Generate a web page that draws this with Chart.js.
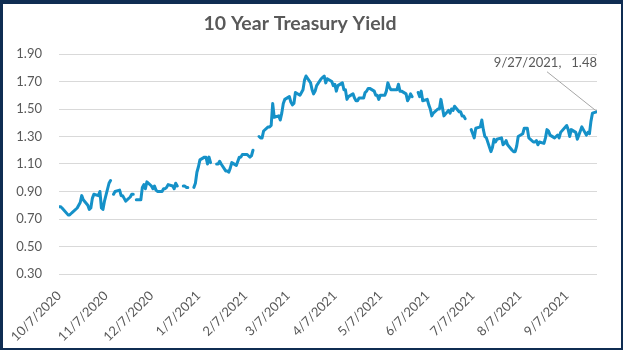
<!DOCTYPE html>
<html>
<head>
    <title>10 Year Treasury Yield</title>
    <script src="https://cdn.jsdelivr.net/npm/chart.js@4.4.1/dist/chart.umd.min.js"></script>
    <style>
        html, body {
            margin: 0;
            padding: 0;
            background: #0f2d52;
        }
        .frame {
            position: absolute;
            left: 3px;
            top: 4px;
            width: 618px;
            height: 344px;
            background: #ffffff;
        }
    </style>
</head>
<body>
    <div class="frame">
        <canvas id="yieldChart" width="618" height="344"></canvas>
    </div>

    <script>
        // daily close, blank where the market was shut
        const dates = [
            '10/7/2020','10/8/2020','10/9/2020','10/13/2020','10/14/2020','10/15/2020','10/16/2020',
            '10/19/2020','10/20/2020','10/21/2020','10/22/2020','10/23/2020','10/26/2020','10/27/2020','10/28/2020',
            '10/29/2020','10/30/2020','11/2/2020','11/3/2020','11/4/2020','11/5/2020','11/6/2020','11/9/2020',
            '11/10/2020','11/11/2020','11/12/2020','11/13/2020','11/16/2020','11/17/2020','11/18/2020','11/19/2020',
            '11/20/2020','11/23/2020','11/24/2020','11/25/2020','11/26/2020','11/27/2020','11/30/2020','12/1/2020',
            '12/2/2020','12/3/2020','12/4/2020','12/7/2020','12/8/2020','12/9/2020','12/10/2020','12/11/2020',
            '12/14/2020','12/15/2020','12/16/2020','12/17/2020','12/18/2020','12/21/2020','12/22/2020','12/23/2020',
            '12/24/2020','12/25/2020','12/28/2020','12/29/2020','12/30/2020','12/31/2020','1/1/2021','1/4/2021',
            '1/5/2021','1/6/2021','1/7/2021','1/8/2021','1/11/2021','1/12/2021','1/13/2021','1/14/2021',
            '1/15/2021','1/18/2021','1/19/2021','1/20/2021','1/21/2021','1/22/2021','1/25/2021','1/26/2021',
            '1/27/2021','1/28/2021','1/29/2021','2/1/2021','2/2/2021','2/3/2021','2/4/2021','2/5/2021',
            '2/8/2021','2/9/2021','2/10/2021','2/11/2021','2/12/2021','2/15/2021','2/16/2021','2/17/2021',
            '2/18/2021','2/19/2021','2/22/2021','2/23/2021','2/24/2021','2/25/2021','2/26/2021','3/1/2021',
            '3/2/2021','3/3/2021','3/4/2021','3/5/2021','3/8/2021','3/9/2021','3/10/2021','3/11/2021',
            '3/12/2021','3/15/2021','3/16/2021','3/17/2021','3/18/2021','3/19/2021','3/22/2021','3/23/2021',
            '3/24/2021','3/25/2021','3/26/2021','3/29/2021','3/30/2021','3/31/2021','4/1/2021','4/2/2021',
            '4/5/2021','4/6/2021','4/7/2021','4/8/2021','4/9/2021','4/12/2021','4/13/2021','4/14/2021',
            '4/15/2021','4/16/2021','4/19/2021','4/20/2021','4/21/2021','4/22/2021','4/23/2021','4/26/2021',
            '4/27/2021','4/28/2021','4/29/2021','4/30/2021','5/3/2021','5/4/2021','5/5/2021','5/6/2021',
            '5/7/2021','5/10/2021','5/11/2021','5/12/2021','5/13/2021','5/14/2021','5/17/2021','5/18/2021',
            '5/19/2021','5/20/2021','5/21/2021','5/24/2021','5/25/2021','5/26/2021','5/27/2021','5/28/2021',
            '5/31/2021','6/1/2021','6/2/2021','6/3/2021','6/4/2021','6/7/2021','6/8/2021','6/9/2021',
            '6/10/2021','6/11/2021','6/14/2021','6/15/2021','6/16/2021','6/17/2021','6/18/2021','6/21/2021',
            '6/22/2021','6/23/2021','6/24/2021','6/25/2021','6/28/2021','6/29/2021','6/30/2021','7/1/2021',
            '7/2/2021','7/5/2021','7/6/2021','7/7/2021','7/8/2021','7/9/2021','7/12/2021','7/13/2021',
            '7/14/2021','7/15/2021','7/16/2021','7/19/2021','7/20/2021','7/21/2021','7/22/2021','7/23/2021',
            '7/26/2021','7/27/2021','7/28/2021','7/29/2021','7/30/2021','8/2/2021','8/3/2021','8/4/2021',
            '8/5/2021','8/6/2021','8/9/2021','8/10/2021','8/11/2021','8/12/2021','8/13/2021','8/16/2021',
            '8/17/2021','8/18/2021','8/19/2021','8/20/2021','8/23/2021','8/24/2021','8/25/2021','8/26/2021',
            '8/27/2021','8/30/2021','8/31/2021','9/1/2021','9/2/2021','9/3/2021','9/7/2021',
            '9/8/2021','9/9/2021','9/10/2021','9/13/2021','9/14/2021','9/15/2021','9/16/2021','9/17/2021',
            '9/20/2021','9/21/2021','9/22/2021','9/23/2021','9/24/2021','9/27/2021'
        ];

        const yields = [
            0.79,0.79,0.78,0.73,0.73,0.74,0.75,
            0.78,0.80,0.82,0.87,0.84,0.80,0.77,0.78,
            0.85,0.88,0.87,0.90,0.78,0.77,0.83,0.96,
            0.98,null,0.88,0.90,0.91,0.87,0.87,0.85,
            0.83,0.86,0.88,0.88,null,0.84,0.84,0.93,
            0.95,0.92,0.97,0.94,0.92,0.94,0.91,0.90,
            0.90,0.92,0.92,0.93,0.95,0.94,0.92,0.96,
            0.94,null,0.94,0.94,0.93,0.93,null,0.93,
            0.96,1.04,1.08,1.13,1.15,1.15,1.10,1.15,
            1.11,null,1.10,1.10,1.12,1.10,1.05,1.05,
            1.04,1.07,1.11,1.09,1.12,1.15,1.15,1.17,
            1.17,1.16,1.15,1.16,1.20,null,1.30,1.29,
            1.29,1.34,1.37,1.37,1.38,1.54,1.44,1.45,
            1.42,1.47,1.54,1.57,1.59,1.55,1.53,1.54,
            1.62,1.60,1.62,1.64,1.71,1.74,1.69,1.64,
            1.61,1.63,1.67,1.72,1.73,1.74,1.69,1.72,
            1.70,1.67,1.68,1.63,1.67,1.69,1.64,1.64,
            1.57,1.59,1.61,1.58,1.56,1.56,1.58,1.58,
            1.62,1.63,1.65,1.65,1.63,1.60,1.60,1.57,
            1.60,1.60,1.63,1.69,1.66,1.64,1.64,1.64,
            1.68,1.63,1.63,1.61,1.56,1.58,1.61,1.59,
            null,1.62,1.59,1.63,1.56,1.57,1.53,1.50,
            1.45,1.47,1.50,1.50,1.57,1.51,1.45,1.49,
            1.47,1.50,1.49,1.52,1.48,1.48,1.45,1.45,
            1.43,null,1.35,1.32,1.29,1.36,1.37,1.42,
            1.35,1.30,1.29,1.19,1.22,1.28,1.26,1.28,
            1.29,1.24,1.25,1.27,1.24,1.20,1.19,1.19,
            1.23,1.30,1.32,1.36,1.36,1.36,1.29,1.26,
            1.26,1.27,1.24,1.26,1.25,1.29,1.35,1.34,
            1.31,1.29,1.30,1.31,1.29,1.33,1.38,
            1.35,1.30,1.35,1.33,1.28,1.31,1.34,1.37,
            1.31,1.33,1.32,1.41,1.47,1.48
        ];

        const xTickLabels = ['10/7/2020','11/7/2020','12/7/2020','1/7/2021','2/7/2021','3/7/2021',
                             '4/7/2021','5/7/2021','6/7/2021','7/7/2021','8/7/2021','9/7/2021'];
        const yTicks = [0.30, 0.50, 0.70, 0.90, 1.10, 1.30, 1.50, 1.70, 1.90];

        // days since the first date, so the x axis runs on calendar time
        function dayOf(s) {
            const p = s.split('/').map(Number);
            return Date.UTC(p[2], p[0] - 1, p[1]) / 86400000;
        }
        const day0 = dayOf(dates[0]);
        const toX = s => dayOf(s) - day0;

        const points = dates.map((d, i) => ({ x: toX(d), y: yields[i] }));
        const tickDays = xTickLabels.map(toX);
        const lastIdx = dates.length - 1;

        const grey = '#595959';
        const fontFamily = 'Lato, "Open Sans", sans-serif';

        // callout with leader line on the final point
        const lastPointLabel = {
            id: 'lastPointLabel',
            afterDatasetsDraw(chart) {
                const xs = chart.scales.x, ys = chart.scales.y;
                const px = xs.getPixelForValue(points[lastIdx].x);
                const py = ys.getPixelForValue(yields[lastIdx]);
                const c = chart.ctx;
                c.save();
                c.strokeStyle = '#a6a6a6';
                c.lineWidth = 1;
                c.beginPath();
                c.moveTo(px - 50, py - 40);
                c.lineTo(px - 1, py - 1);
                c.stroke();
                c.fillStyle = grey;
                c.font = '13px ' + fontFamily;
                c.textAlign = 'right';
                c.textBaseline = 'middle';
                c.fillText(dates[lastIdx] + ',   ' + yields[lastIdx].toFixed(2), px, py - 49);
                c.restore();
            }
        };

        const ctx = document.getElementById('yieldChart').getContext('2d');
        new Chart(ctx, {
            type: 'line',
            data: {
                datasets: [{
                    data: points,
                    borderColor: '#1591c8',
                    borderWidth: 3,
                    pointRadius: 0,
                    tension: 0,
                    spanGaps: false,
                    borderJoinStyle: 'round',
                    borderCapStyle: 'round'
                }]
            },
            options: {
                responsive: false,
                animation: false,
                layout: { padding: { left: 0, right: 24, top: 0, bottom: 0 } },
                plugins: {
                    legend: { display: false },
                    tooltip: { enabled: false },
                    title: {
                        display: true,
                        text: '10 Year Treasury Yield',
                        color: grey,
                        font: { family: fontFamily, size: 19.5, weight: 'bold' },
                        padding: { top: 8, bottom: 18.6 }
                    }
                },
                scales: {
                    x: {
                        type: 'linear',
                        min: 0,
                        max: toX(dates[lastIdx]),
                        afterBuildTicks: s => { s.ticks = tickDays.map(v => ({ value: v })); },
                        afterFit: s => { s.height = 74; },
                        ticks: {
                            autoSkip: false,
                            minRotation: 45,
                            maxRotation: 45,
                            padding: 6,
                            color: grey,
                            font: { family: fontFamily, size: 13 },
                            callback: v => xTickLabels[tickDays.indexOf(v)]
                        },
                        grid: { display: false },
                        border: { display: false }
                    },
                    y: {
                        min: yTicks[0],
                        max: yTicks[yTicks.length - 1],
                        afterBuildTicks: s => { s.ticks = yTicks.map(v => ({ value: v })); },
                        afterFit: s => { s.width = 56; },
                        ticks: {
                            padding: 17,
                            color: grey,
                            font: { family: fontFamily, size: 13 },
                            callback: v => v.toFixed(2)
                        },
                        grid: { color: '#d9d9d9', drawTicks: false },
                        border: { display: false }
                    }
                }
            },
            plugins: [lastPointLabel]
        });
    </script>
</body>
</html>
